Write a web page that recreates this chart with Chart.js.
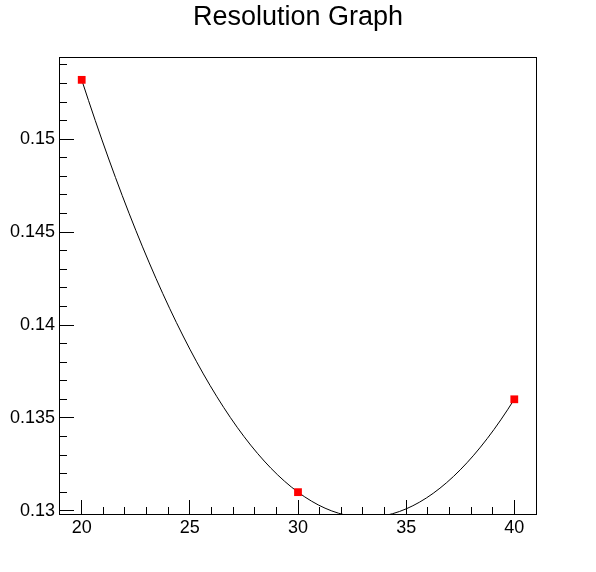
<!DOCTYPE html>
<html>
<head>
<meta charset="utf-8">
<script src="https://cdn.jsdelivr.net/npm/chart.js@4.4.1/dist/chart.umd.min.js"></script>
<style>
  html, body { margin: 0; padding: 0; background: #fff; }
  #wrap { width: 596px; height: 572px; }
</style>
</head>
<body>
<div id="wrap"><canvas id="resChart"></canvas></div>
<script>
// data
const energies = [20, 30, 40];
const resolution = [0.1532, 0.131, 0.136];

// axis ranges / ticks
const xRange = [18.95, 41.05];
const yRange = [0.12977, 0.15443];
const xMajorTicks = [20, 25, 30, 35, 40];
const yMajorTicks = [0.13, 0.135, 0.14, 0.145, 0.15];

const points = energies.map((x, i) => ({ x: x, y: resolution[i] }));

const isMajor = (v, list) => list.some(m => Math.abs(m - v) < 1e-9);

// smooth curve like ROOT's "C" option: bezier control points taken from the
// local parabola through neighbouring points (pixel space, after the scales ran)
const smoothCurve = {
  id: 'smoothCurve',
  beforeDatasetDraw(chart, args) {
    if (!chart.data.datasets[args.index].smooth) return;
    const pts = args.meta.data;
    const n = pts.length;
    if (n < 3) return;
    const slope = i => {
      const j = Math.min(Math.max(i - 1, 0), n - 3);
      const [a, b, c] = [pts[j], pts[j + 1], pts[j + 2]];
      const x = pts[i].x;
      return a.y * (2 * x - b.x - c.x) / ((a.x - b.x) * (a.x - c.x)) +
             b.y * (2 * x - a.x - c.x) / ((b.x - a.x) * (b.x - c.x)) +
             c.y * (2 * x - a.x - b.x) / ((c.x - a.x) * (c.x - b.x));
    };
    pts.forEach((p, i) => {
      const m = slope(i);
      if (i > 0) {
        const d = (p.x - pts[i - 1].x) / 3;
        p.cp1x = p.x - d; p.cp1y = p.y - m * d;
      }
      if (i < n - 1) {
        const d = (pts[i + 1].x - p.x) / 3;
        p.cp2x = p.x + d; p.cp2y = p.y + m * d;
      }
    });
    args.meta.dataset._pointsUpdated = true;
  }
};

// frame + inward ticks, ROOT style
const frameTicks = {
  id: 'frameTicks',
  afterDraw(chart) {
    const { ctx, chartArea: a, scales } = chart;
    ctx.save();
    ctx.strokeStyle = '#000';
    ctx.lineWidth = 1;
    ctx.strokeRect(a.left + 0.5, a.top + 0.5, a.right - a.left - 1, a.bottom - a.top - 1);
    ctx.beginPath();
    scales.x.ticks.forEach(t => {
      if (t.value < xMajorTicks[0] || t.value > xMajorTicks[xMajorTicks.length - 1]) return;
      const px = Math.floor(scales.x.getPixelForValue(t.value)) + 0.5;
      const len = isMajor(t.value, xMajorTicks) ? 14 : 7;
      ctx.moveTo(px, a.bottom - 1);
      ctx.lineTo(px, a.bottom - 1 - len);
    });
    scales.y.ticks.forEach(t => {
      const py = Math.floor(scales.y.getPixelForValue(t.value)) + 0.5;
      const len = isMajor(t.value, yMajorTicks) ? 14 : 7;
      ctx.moveTo(a.left + 1, py);
      ctx.lineTo(a.left + 1 + len, py);
    });
    ctx.stroke();
    ctx.restore();
  }
};

Chart.defaults.font.family = "'Liberation Sans', Arial, sans-serif";
Chart.defaults.color = '#000';

new Chart(document.getElementById('resChart'), {
  type: 'scatter',
  data: {
    datasets: [
      {
        label: 'points',
        data: points,
        showLine: false,
        pointStyle: 'rect',
        pointRadius: 5.5,
        pointBackgroundColor: '#ff0000',
        pointBorderWidth: 0,
        order: 0
      },
      {
        label: 'curve',
        data: points,
        smooth: true,
        showLine: true,
        tension: 0.4,
        borderColor: '#000',
        borderWidth: 1,
        pointRadius: 0,
        clip: 0,
        order: 1
      }
    ]
  },
  options: {
    responsive: true,
    maintainAspectRatio: false,
    animation: false,
    layout: { padding: 0 },
    plugins: {
      legend: { display: false },
      tooltip: { enabled: false },
      title: {
        display: true,
        text: 'Resolution Graph',
        color: '#000',
        font: { size: 27, weight: 'normal', lineHeight: 1 },
        padding: { top: 4, bottom: 26 }
      }
    },
    scales: {
      x: {
        type: 'linear',
        min: xRange[0],
        max: xRange[1],
        grid: { display: false, drawTicks: false },
        border: { display: false },
        ticks: {
          stepSize: 1,
          includeBounds: false,
          autoSkip: false,
          maxRotation: 0,
          maxTicksLimit: 100,
          padding: 2,
          font: { size: 18 },
          callback: v => isMajor(v, xMajorTicks) ? String(v) : ''
        },
        afterFit: s => { s.height = 57; }
      },
      y: {
        type: 'linear',
        min: yRange[0],
        max: yRange[1],
        grid: { display: false, drawTicks: false },
        border: { display: false },
        ticks: {
          stepSize: 0.001,
          includeBounds: false,
          autoSkip: false,
          maxTicksLimit: 100,
          padding: 4,
          font: { size: 18 },
          callback: v => isMajor(v, yMajorTicks) ? String(parseFloat(v.toFixed(3))) : ''
        },
        afterFit: s => { s.width = 59; }
      },
      // empty right margin so the title stays centred on the canvas
      yRight: {
        position: 'right',
        grid: { display: false, drawTicks: false },
        border: { display: false },
        ticks: { display: false },
        afterFit: s => { s.width = 59; }
      }
    }
  },
  plugins: [smoothCurve, frameTicks]
});
</script>
</body>
</html>
